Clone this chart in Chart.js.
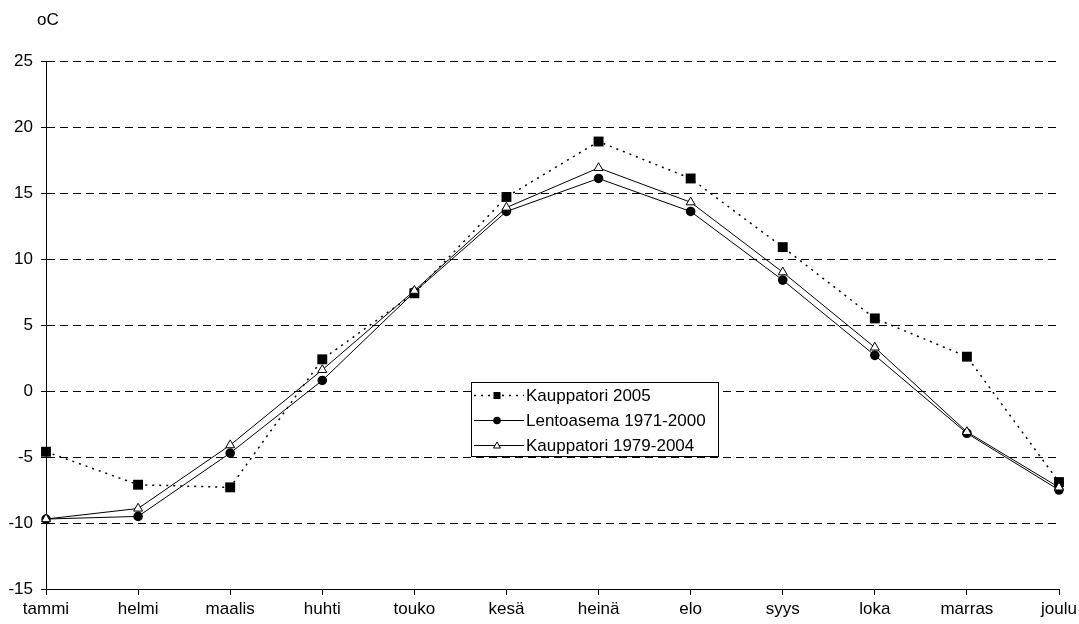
<!DOCTYPE html>
<html>
<head>
<meta charset="utf-8">
<script src="https://cdn.jsdelivr.net/npm/chart.js@4.4.1/dist/chart.umd.min.js"></script>
<style>
  html, body { margin: 0; padding: 0; background: #fff; }
  #wrap { width: 1079px; height: 624px; position: relative; }
</style>
</head>
<body>
<div id="wrap"><canvas id="c" width="1079" height="624"></canvas></div>
<script>
// Monthly mean temperatures (°C)
const months = ['tammi', 'helmi', 'maalis', 'huhti', 'touko', 'kesä', 'heinä', 'elo', 'syys', 'loka', 'marras', 'joulu'];
const kauppatori2005 = [-4.6, -7.1, -7.3, 2.4, 7.4, 14.7, 18.9, 16.1, 10.9, 5.5, 2.6, -6.9];
const lentoasema7100 = [-9.7, -9.5, -4.7, 0.8, 7.5, 13.6, 16.1, 13.6, 8.4, 2.7, -3.2, -7.5];
const kauppatori7904 = [-9.7, -8.9, -4.1, 1.6, 7.6, 13.9, 16.9, 14.3, 9.0, 3.3, -3.1, -7.3];
const seriesNames = ['Kauppatori 2005', 'Lentoasema 1971-2000', 'Kauppatori 1979-2004'];
const yMin = -15, yMax = 25, yStep = 5;
const unitLabel = 'oC';

const FONT = 'Arial, "Liberation Sans", sans-serif';
const FSIZE = 17;

// Boxed legend placed inside the plot, plus the unit label above the axis
const extras = {
  id: 'extras',
  afterDraw(chart) {
    const ctx = chart.ctx;
    ctx.save();
    ctx.font = FSIZE + 'px ' + FONT;
    ctx.fillStyle = '#000';
    ctx.textBaseline = 'middle';
    ctx.textAlign = 'left';
    ctx.fillText(unitLabel, 37, 20);

    const bx = 471.5, by = 382.5, bw = 247, bh = 74;
    ctx.fillStyle = '#fff';
    ctx.fillRect(bx, by, bw, bh);
    ctx.strokeStyle = '#000';
    ctx.lineWidth = 1;
    ctx.strokeRect(bx, by, bw, bh);

    const rows = [395, 420, 445];
    chart.data.datasets.forEach((ds, i) => {
      const y = rows[i];
      ctx.save();
      ctx.strokeStyle = '#000';
      ctx.lineWidth = ds.borderWidth;
      ctx.setLineDash(ds.borderDash || []);
      ctx.beginPath();
      ctx.moveTo(474, y + 0.5);
      ctx.lineTo(524, y + 0.5);
      ctx.stroke();
      ctx.setLineDash([]);
      ctx.lineWidth = 1;
      const mx = 497, my = y + 0.5;
      ctx.beginPath();
      if (ds.pointStyle === 'rect') {
        ctx.fillStyle = '#000';
        ctx.fillRect(mx - 3.5, my - 3.5, 7, 7);
      } else if (ds.pointStyle === 'circle') {
        ctx.fillStyle = '#000';
        ctx.arc(mx, my, 3.8, 0, Math.PI * 2);
        ctx.fill();
      } else {
        ctx.fillStyle = '#fff';
        ctx.moveTo(mx, my - 3.5);
        ctx.lineTo(mx + 3.5, my + 2.5);
        ctx.lineTo(mx - 3.5, my + 2.5);
        ctx.closePath();
        ctx.fill();
        ctx.stroke();
      }
      ctx.restore();
      ctx.font = FSIZE + 'px ' + FONT;
      ctx.fillStyle = '#000';
      ctx.textBaseline = 'middle';
      ctx.fillText(ds.label, 526, y + 1);
    });
    ctx.restore();
  }
};

new Chart(document.getElementById('c'), {
  type: 'line',
  data: {
    labels: months,
    datasets: [
      {
        label: seriesNames[0],
        data: kauppatori2005,
        borderColor: '#000',
        borderWidth: 1.5,
        borderDash: [2, 5],
        pointStyle: 'rect',
        pointRadius: 7,
        pointBackgroundColor: '#000',
        pointBorderColor: '#000',
        pointBorderWidth: 0,
        tension: 0,
        order: 3
      },
      {
        label: seriesNames[1],
        data: lentoasema7100,
        borderColor: '#000',
        borderWidth: 1,
        pointStyle: 'circle',
        pointRadius: 4.8,
        pointBackgroundColor: '#000',
        pointBorderColor: '#000',
        pointBorderWidth: 0,
        tension: 0,
        order: 2
      },
      {
        label: seriesNames[2],
        data: kauppatori7904,
        borderColor: '#000',
        borderWidth: 1,
        pointStyle: 'triangle',
        pointRadius: 5.2,
        pointBackgroundColor: '#fff',
        pointBorderColor: '#000',
        pointBorderWidth: 1,
        tension: 0,
        order: 1
      }
    ]
  },
  options: {
    responsive: false,
    devicePixelRatio: 1,
    animation: false,
    layout: { padding: { top: 61, right: 20, left: 0, bottom: 0 } },
    plugins: { legend: { display: false }, tooltip: { enabled: false } },
    scales: {
      x: {
        offset: false,
        afterFit(scale) { scale.height = 35; scale.paddingRight = 0; },
        grid: {
          drawOnChartArea: false,
          drawTicks: true,
          tickLength: 6,
          tickColor: '#000',
          tickWidth: 1
        },
        border: { display: true, color: '#000', width: 1 },
        ticks: {
          color: '#000',
          font: { family: FONT, size: FSIZE },
          padding: 4,
          maxRotation: 0,
          autoSkip: false
        }
      },
      y: {
        min: yMin,
        max: yMax,
        afterFit(scale) { scale.width = 46; },
        grid: {
          color: '#000',
          lineWidth: 1,
          tickLength: 5,
          tickColor: '#000',
          tickBorderDash: []
        },
        // border.dash styles the dashed horizontal grid lines; the axis line stays solid
        border: { display: true, color: '#000', width: 1, dash: [8, 5] },
        ticks: {
          stepSize: yStep,
          color: '#000',
          font: { family: FONT, size: FSIZE },
          padding: 8
        }
      }
    }
  },
  plugins: [extras]
});
</script>
</body>
</html>
